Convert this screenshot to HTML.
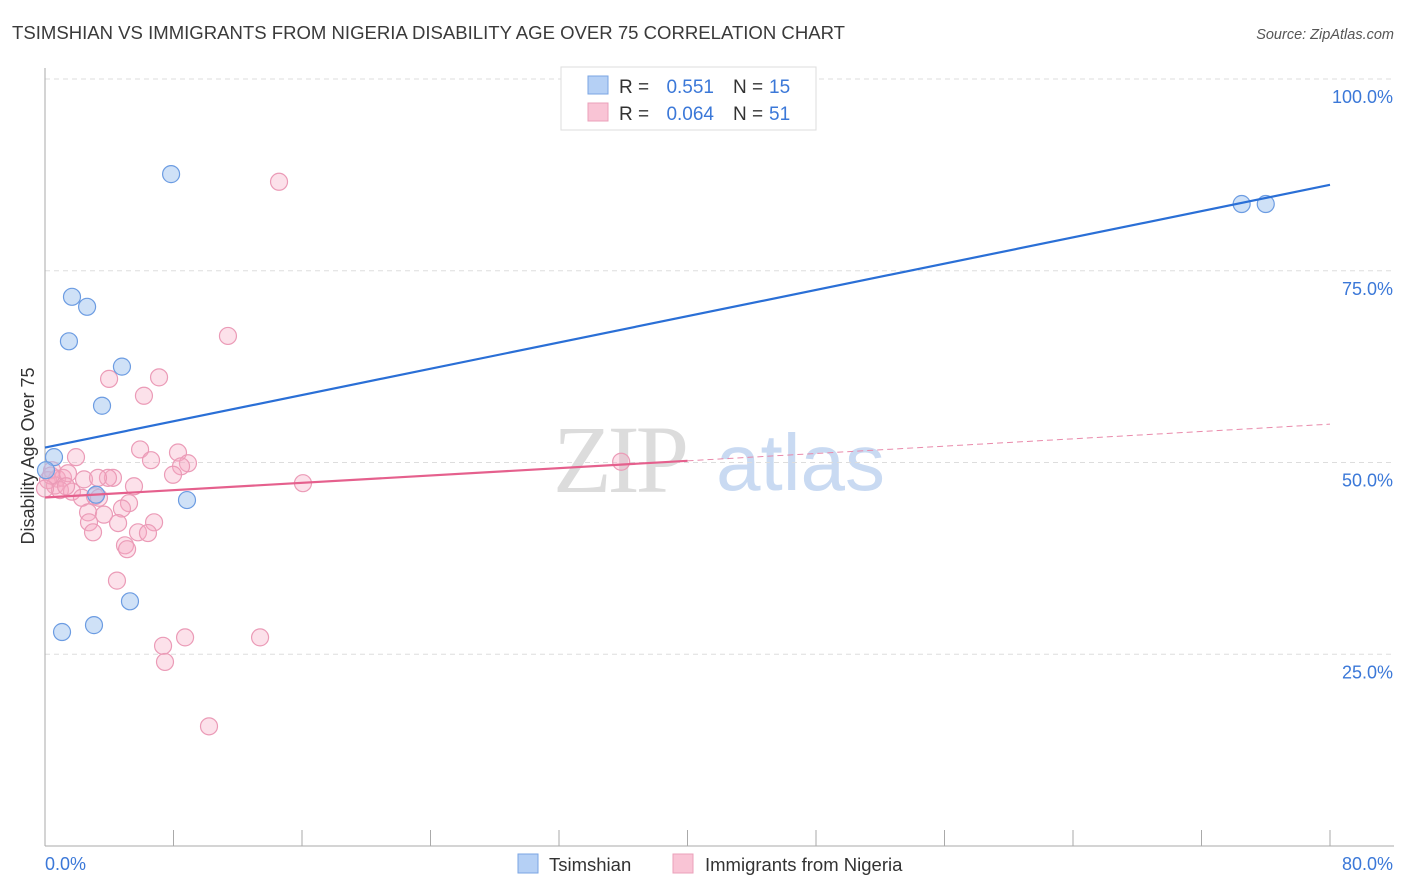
<!DOCTYPE html>
<html><head><meta charset="utf-8"><style>
body{margin:0;background:#fff;font-family:"Liberation Sans",sans-serif}
svg{display:block}
</style></head><body>
<svg id="c" width="1406" height="892" viewBox="0 0 1406 892">
<text x="12" y="39" font-size="18.5" fill="#3a3a3a" textLength="833" lengthAdjust="spacingAndGlyphs">TSIMSHIAN VS IMMIGRANTS FROM NIGERIA DISABILITY AGE OVER 75 CORRELATION CHART</text>
<text x="1394" y="39" font-size="14.5" fill="#555" font-style="italic" text-anchor="end">Source: ZipAtlas.com</text>
<g>
<text x="553" y="492" font-family="Liberation Serif,serif" font-size="96" fill="#dcdcdc" letter-spacing="-4">ZIP</text>
<text x="716" y="490" font-size="80" fill="#c9daf2">atlas</text>
</g>
<g id="grid"></g>
<g id="axes"></g>
<g id="marks"></g>
<text transform="translate(34,456) rotate(-90)" font-size="18" fill="#333" text-anchor="middle">Disability Age Over 75</text>
<g>
<rect x="561" y="67" width="255" height="63" fill="#fff" stroke="#ddd"/>
<rect x="588" y="76" width="20" height="18" fill="#b5d0f5" stroke="#7aa5e3"/>
<rect x="588" y="103" width="20" height="18" fill="#f9c4d5" stroke="#eba0ba"/>
<text x="619" y="93" font-size="19" fill="#333">R =</text>
<text x="714" y="93" font-size="19" fill="#3b78d8" text-anchor="end">0.551</text>
<text x="733" y="93" font-size="19" fill="#333">N =</text>
<text x="769" y="93" font-size="19" fill="#3b78d8">15</text>
<text x="619" y="120" font-size="19" fill="#333">R =</text>
<text x="714" y="120" font-size="19" fill="#3b78d8" text-anchor="end">0.064</text>
<text x="733" y="120" font-size="19" fill="#333">N =</text>
<text x="769" y="120" font-size="19" fill="#3b78d8">51</text>
</g>
<g>
<rect x="518" y="854" width="20" height="19" fill="#b5d0f5" stroke="#7aa5e3"/>
<text x="549" y="871" font-size="18.5" fill="#333">Tsimshian</text>
<rect x="673" y="854" width="20" height="19" fill="#f9c4d5" stroke="#eba0ba"/>
<text x="705" y="871" font-size="18.5" fill="#333">Immigrants from Nigeria</text>
</g>
</svg>
<script>
const blueX=[7.85,1.68,2.62,1.49,4.79,3.55,0.56,3.18,8.84,5.29,3.05,1.06,74.5,76.0,0.06];
const blueY=[87.6,71.6,70.3,65.8,62.5,57.4,50.7,45.8,45.1,31.9,28.8,27.9,83.7,83.7,49.0];
const pinkX=[14.57,11.39,3.99,7.10,6.16,5.92,8.28,6.60,8.90,8.47,1.93,7.97,16.06,35.87,4.23,3.92,2.43,0.44,0.75,1.12,1.43,0.19,0.62,0.93,1.68,2.30,3.11,3.36,5.54,5.23,4.79,2.68,3.67,2.74,4.55,6.79,2.99,5.79,6.41,4.98,5.11,4.48,7.35,8.72,13.39,7.47,10.21,1.31,0.37,0.0,3.30];
const pinkY=[86.6,66.5,60.9,61.1,58.7,51.7,51.3,50.3,49.9,49.5,50.7,48.4,47.3,50.1,48.0,48.0,47.8,49.0,47.9,48.0,48.6,47.7,47.0,46.4,46.2,45.4,45.6,45.4,46.9,44.7,44.0,43.5,43.2,42.2,42.1,42.2,40.9,40.9,40.8,39.2,38.7,34.6,26.1,27.2,27.2,24.0,15.6,46.9,48.3,46.6,48.0];
const blueTrend=[51.95,86.2];
const pinkTrend=[45.44,55.0];
const yTicks=[25,50,75,100];
const yTickLabels=["25.0%","50.0%","75.0%","100.0%"];
const xTicks=[0,8,16,24,32,40,48,56,64,72,80];
const NS="http://www.w3.org/2000/svg";
const X=v=>45+v*16.0625, Y=v=>846-v*7.67;
function mk(t,a,p){const e=document.createElementNS(NS,t);for(const k in a)e.setAttribute(k,a[k]);p.appendChild(e);return e;}
const grid=document.getElementById('grid'),axes=document.getElementById('axes'),marks=document.getElementById('marks');
yTicks.forEach((t,i)=>{
 const l=mk('line',{x1:45,x2:1394,y1:Y(t),y2:Y(t),stroke:'#ddd','stroke-dasharray':'5,4'},grid);
 
 
 const tx=mk('text',{x:1393,y:Y(t)+24,'font-size':18,fill:'#3b78d8','text-anchor':'end'},axes);
 tx.textContent=yTickLabels[i];
 
 
});
const al=mk('line',{x1:45,x2:45,y1:68,y2:846,stroke:'#aaa'},axes);


const bl=mk('line',{x1:45,x2:1394,y1:846,y2:846,stroke:'#aaa'},axes);


xTicks.forEach(t=>{
 const k=mk('line',{x1:X(t),x2:X(t),y1:830,y2:846,stroke:'#aaa'},axes);
 
 
});
const x0=mk('text',{x:45,y:870,'font-size':18,fill:'#3b78d8'},axes);x0.textContent='0.0%';


const x1=mk('text',{x:1393,y:870,'font-size':18,fill:'#3b78d8','text-anchor':'end'},axes);x1.textContent='80.0%';


pinkX.forEach((v,i)=>{
 const c=mk('circle',{cx:X(v),cy:Y(pinkY[i]),r:8.5,fill:'rgba(246,170,196,0.35)',stroke:'#eb9bb7','stroke-width':1.2},marks);
 
 
});
blueX.forEach((v,i)=>{
 const c=mk('circle',{cx:X(v),cy:Y(blueY[i]),r:8.5,fill:'rgba(160,195,240,0.5)',stroke:'#6c9ce2','stroke-width':1.2},marks);
 
 
});
const bt=mk('line',{x1:X(0),y1:Y(blueTrend[0]),x2:X(80),y2:Y(blueTrend[1]),stroke:'#2a6fd6','stroke-width':2.2},marks);


const pm=pinkTrend[0]+(pinkTrend[1]-pinkTrend[0])*40/80;
const pt=mk('line',{x1:X(0),y1:Y(pinkTrend[0]),x2:X(40),y2:Y(pm),stroke:'#e5608d','stroke-width':2.2},marks);


const pd=mk('line',{x1:X(40),y1:Y(pm),x2:X(80),y2:Y(pinkTrend[1]),stroke:'#e98aab','stroke-width':1,'stroke-dasharray':'6,4'},marks);


</script>
</body></html>
